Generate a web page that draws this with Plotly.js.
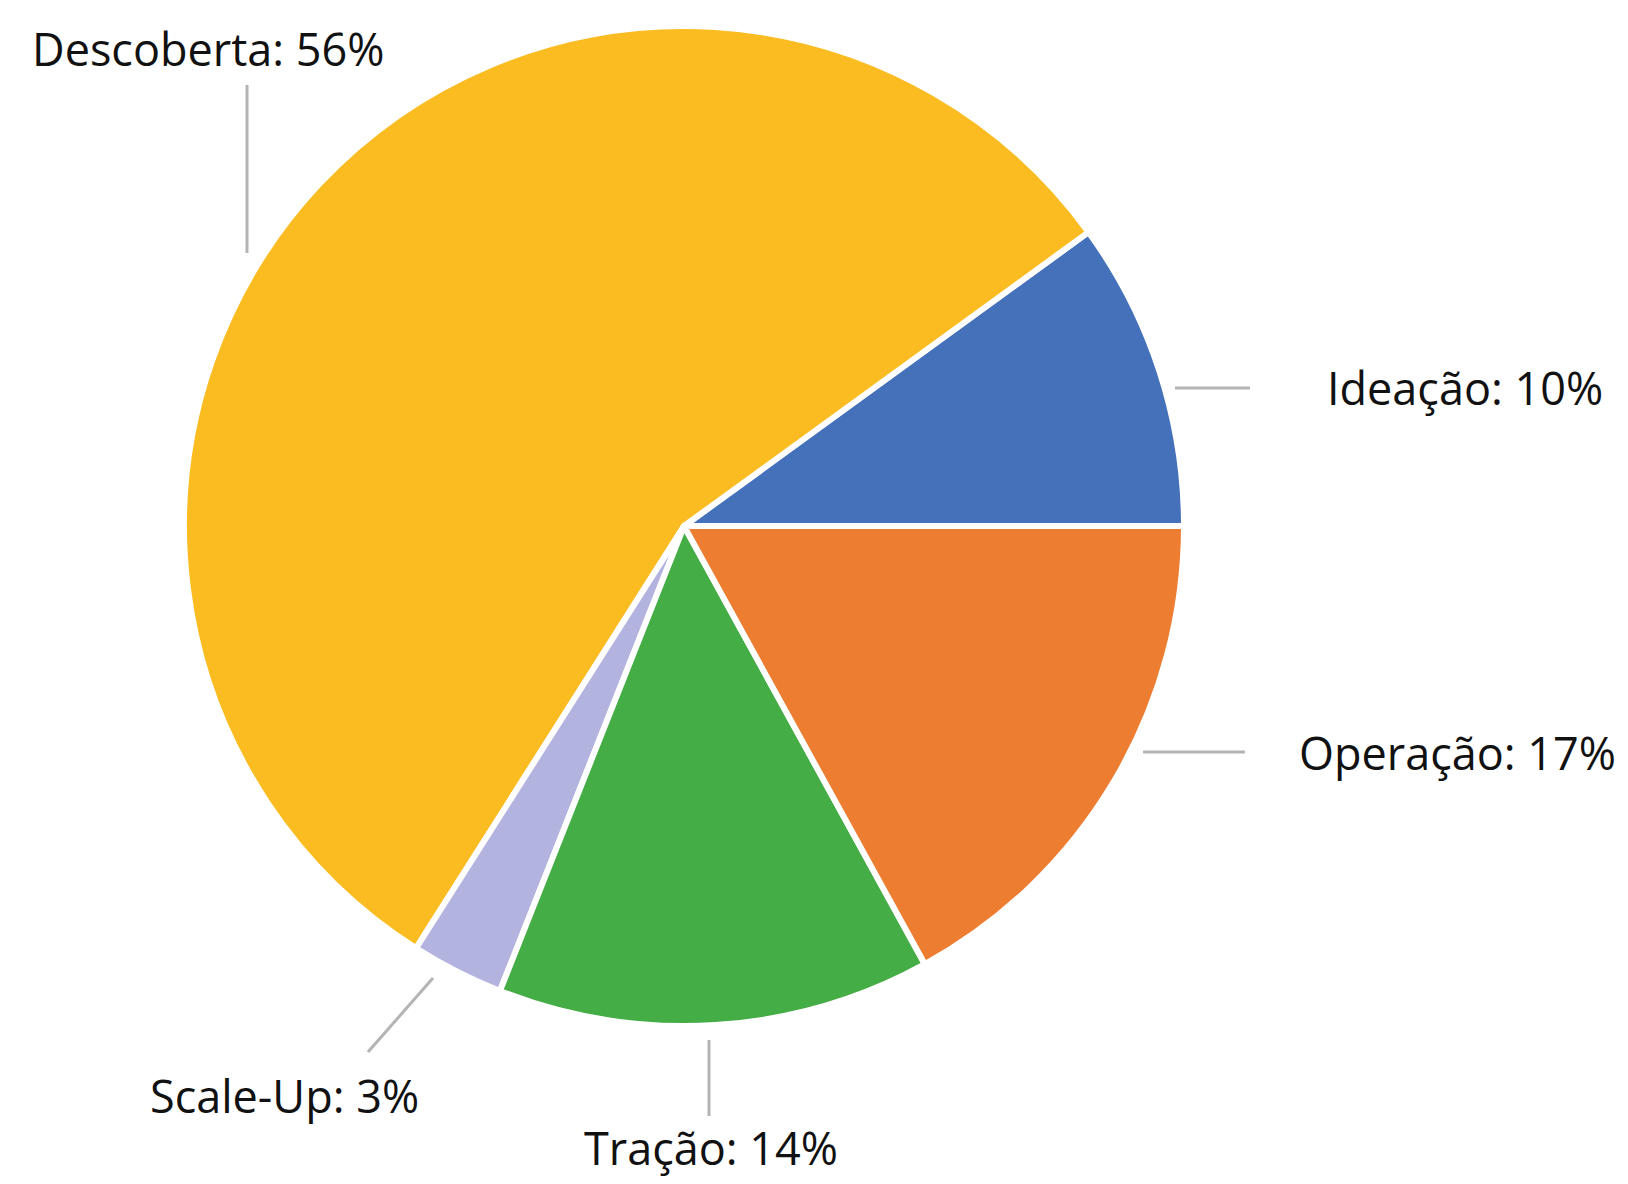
<!DOCTYPE html>
<html>
<head>
<meta charset="utf-8">
<script src="https://cdn.plot.ly/plotly-3.0.1.min.js"></script>
<style>html,body{margin:0;padding:0;background:#fff;}#chart{width:1628px;height:1184px;}</style>
</head>
<body>
<div id="chart"></div>
<script>
// Data
var stages = ['Ideação', 'Descoberta', 'Scale-Up', 'Tração', 'Operação'];
var shares = [10, 56, 3, 14, 17];
var colors = ['#4471BA', '#FBBC22', '#B3B3E0', '#45AD45', '#ED7D31'];

// Label layout (pixel positions of label anchor and leader line ends)
var W = 1628, H = 1184;
var labelPos = [
  {x: 1325, y: 388, xa: 'left',   line: [1175, 388, 1250, 388]},
  {x: 30,   y: 48,  xa: 'left',   line: [247, 85, 247, 253]},
  {x: 148,  y: 1095, xa: 'left',  line: [433, 978, 368, 1052]},
  {x: 711,  y: 1147, xa: 'center', line: [709, 1040, 709, 1116]},
  {x: 1297, y: 752, xa: 'left',   line: [1143, 752, 1245, 752]}
];
function px(x){ return x / W; }
function py(y){ return 1 - y / H; }

var annotations = stages.map(function(s, i){
  var p = labelPos[i];
  return {
    xref: 'paper', yref: 'paper', x: px(p.x), y: py(p.y),
    xanchor: p.xa, yanchor: 'middle', showarrow: false,
    text: s + ': ' + shares[i] + '%',
    font: {family: 'Open Sans, sans-serif', size: 45, color: '#111111'}
  };
});
var shapes = labelPos.map(function(p){
  return {type: 'line', xref: 'paper', yref: 'paper',
    x0: px(p.line[0]), y0: py(p.line[1]), x1: px(p.line[2]), y1: py(p.line[3]),
    line: {color: '#B4B4B4', width: 3}};
});

var trace = {
  type: 'pie',
  labels: stages,
  values: shares,
  sort: false,
  direction: 'counterclockwise',
  rotation: 54,
  marker: {colors: colors, line: {color: '#ffffff', width: 6}},
  textinfo: 'none',
  hoverinfo: 'label+percent',
  showlegend: false,
  domain: {x: [0.1130, 0.7273], y: [0.1334, 0.9780]}
};

var layout = {
  width: W, height: H,
  margin: {l: 0, r: 0, t: 0, b: 0},
  paper_bgcolor: '#ffffff',
  showlegend: false,
  annotations: annotations,
  shapes: shapes
};

Plotly.newPlot('chart', [trace], layout, {displayModeBar: false, staticPlot: true});
</script>
</body>
</html>
